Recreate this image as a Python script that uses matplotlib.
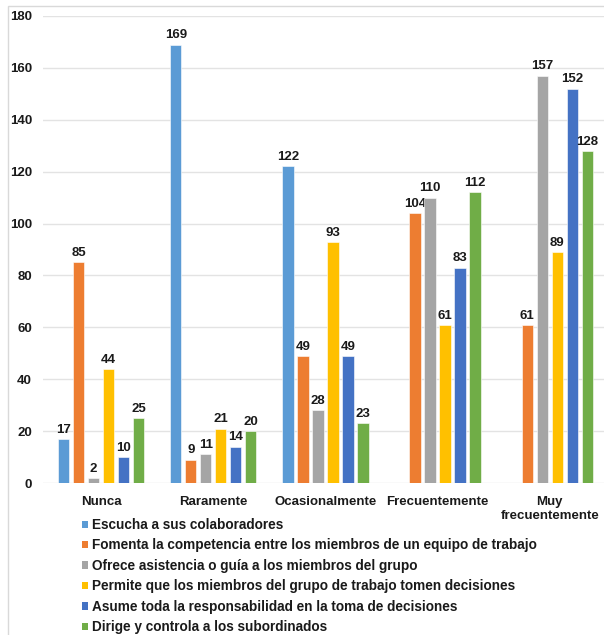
import matplotlib
matplotlib.use("Agg")
import matplotlib.pyplot as plt
from matplotlib.patches import Rectangle, Patch
import numpy as np

plt.rcParams['font.family'] = ['Liberation Sans', 'DejaVu Sans']

categories = ["Nunca", "Raramente", "Ocasionalmente", "Frecuentemente", "Muy\nfrecuentemente"]
series_names = [
    "Escucha a sus colaboradores",
    "Fomenta la competencia entre los miembros de un equipo de trabajo",
    "Ofrece asistencia o guía a los miembros del grupo",
    "Permite que los miembros del grupo de trabajo tomen decisiones",
    "Asume toda la responsabilidad en la toma de decisiones",
    "Dirige y controla a los subordinados",
]
escucha = [17, 169, 122, 0, 0]
fomenta = [85, 9, 49, 104, 61]
ofrece = [2, 11, 28, 110, 157]
permite = [44, 21, 93, 61, 89]
asume = [10, 14, 49, 83, 152]
dirige = [25, 20, 23, 112, 128]
yticks = [0, 20, 40, 60, 80, 100, 120, 140, 160, 180]

series = [escucha, fomenta, ofrece, permite, asume, dirige]
colors = ["#5B9BD5", "#ED7D31", "#A5A5A5", "#FFC000", "#4472C4", "#70AD47"]
FS = 9.5
TXT = "#1a1a1a"

W, H = 604, 635
fig = plt.figure(figsize=(W / 100, H / 100), dpi=100)

# light outer frame of the chart area
fig.patches.append(Rectangle((8 / W, -0.1), 1.2, 1 - 6 / H + 0.1,
                             transform=fig.transFigure, fill=False,
                             edgecolor="#d9d9d9", linewidth=1.0))

ax = fig.add_axes([43 / W, 1 - 483 / H, 1 - 43 / W, (483 - 16) / H])

x = np.arange(len(categories))
step = 0.1337
width = 0.103
n = len(series)
for i, (vals, col) in enumerate(zip(series, colors)):
    offs = (i - (n - 1) / 2) * step
    ax.bar(x + offs, vals, width=width, color=col, edgecolor="white",
           linewidth=0.4, zorder=3)
    for xb, v in zip(x + offs, vals):
        if v > 0:
            ax.annotate(str(v), (xb, v), xytext=(0, 2.3), textcoords="offset points",
                        ha="center", va="bottom", fontsize=FS, fontweight="bold",
                        color=TXT)

ax.set_xlim(-0.517, 4.483)
ax.set_ylim(0, 180)
ax.set_yticks(yticks)
ax.set_yticklabels([str(t) for t in yticks], fontsize=FS, fontweight="bold", color=TXT)
ax.set_xticks(x)
ax.set_xticklabels(categories, fontsize=FS, fontweight="bold", color=TXT,
                   linespacing=1.2)
ax.tick_params(axis="both", length=0)
ax.tick_params(axis="y", pad=8)
ax.tick_params(axis="x", pad=9.5)
ax.grid(axis="y", color="#e3e3e3", linewidth=1.0, zorder=0)
for s in ax.spines.values():
    s.set_visible(False)

handles = [Patch(facecolor=c, edgecolor="none") for c in colors]
leg = fig.legend(handles, series_names, loc="upper left",
                 bbox_to_anchor=(82 / W, 1 - 518 / H),
                 frameon=False, fontsize=9.8, handlelength=0.44, handleheight=0.44,
                 handletextpad=0.3, labelspacing=0.475, borderaxespad=0, borderpad=0)
for t in leg.get_texts():
    t.set_fontweight("bold")
    t.set_color(TXT)

fig.savefig("out.png", dpi=100)
